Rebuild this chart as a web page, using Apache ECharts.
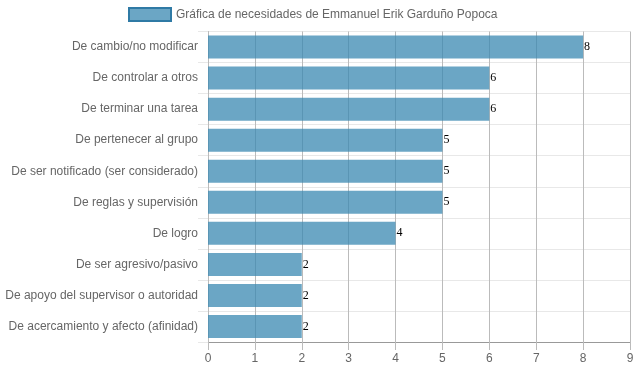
<!DOCTYPE html>
<html><head><meta charset="utf-8">
<script src="https://cdn.jsdelivr.net/npm/echarts@6/dist/echarts.min.js"></script>
<style>html,body{margin:0;padding:0;background:#fff}#c{width:637px;height:371px}</style>
</head><body><div id="c"></div>
<script>
var categories = ["De cambio/no modificar","De controlar a otros","De terminar una tarea","De pertenecer al grupo","De ser notificado (ser considerado)","De reglas y supervisión","De logro","De ser agresivo/pasivo","De apoyo del supervisor o autoridad","De acercamiento y afecto (afinidad)"];
var values = [8,6,6,5,5,5,4,2,2,2];
var seriesName = "Gráfica de necesidades de Emmanuel Erik Garduño Popoca";
var xTicks = [0,1,2,3,4,5,6,7,8,9];

var chart = echarts.init(document.getElementById('c'));
chart.setOption({
  animation: false,
  textStyle: {fontFamily: "'Liberation Sans', Arial, sans-serif"},
  legend: {
    top: 7, left: 128, itemWidth: 42, itemHeight: 13, itemGap: 6, padding: 0,
    icon: 'rect',
    textStyle: {color: '#666', fontSize: 12, fontFamily: "'Liberation Sans', Arial, sans-serif"},
    itemStyle: {color: 'rgba(58,136,178,0.75)', borderColor: 'rgba(47,122,165,1)', borderWidth: 2},
    data: [seriesName]
  },
  grid: {left: 208, right: 7, top: 31.5, bottom: 29, containLabel: false},
  xAxis: {
    type: 'value', min: xTicks[0], max: xTicks[xTicks.length-1], interval: 1,
    axisLine: {show: true, lineStyle: {color: '#999', width: 1}},
    axisTick: {show: true, length: 8, lineStyle: {color: '#bbb'}},
    splitLine: {show: true, lineStyle: {color: '#bbb', width: 1}},
    axisLabel: {color: '#666', fontSize: 12, margin: 11}
  },
  yAxis: {
    type: 'category', data: categories, inverse: true,
    axisLine: {show: true, lineStyle: {color: '#bbb'}},
    axisTick: {show: true, length: 10, interval: 0, lineStyle: {color: '#e8e8e8'}},
    splitLine: {show: true, interval: 0, lineStyle: {color: '#e8e8e8'}},
    axisLabel: {color: '#666', fontSize: 12, margin: 10, interval: 0}
  },
  series: [{
    name: seriesName, type: 'bar', data: values, barWidth: 23,
    itemStyle: {color: 'rgba(58,136,178,0.75)'},
    label: {show: true, position: 'right', distance: 1, color: '#000', fontSize: 12,
      fontFamily: "'Liberation Serif', 'Times New Roman', serif"}
  }]
});
</script></body></html>
